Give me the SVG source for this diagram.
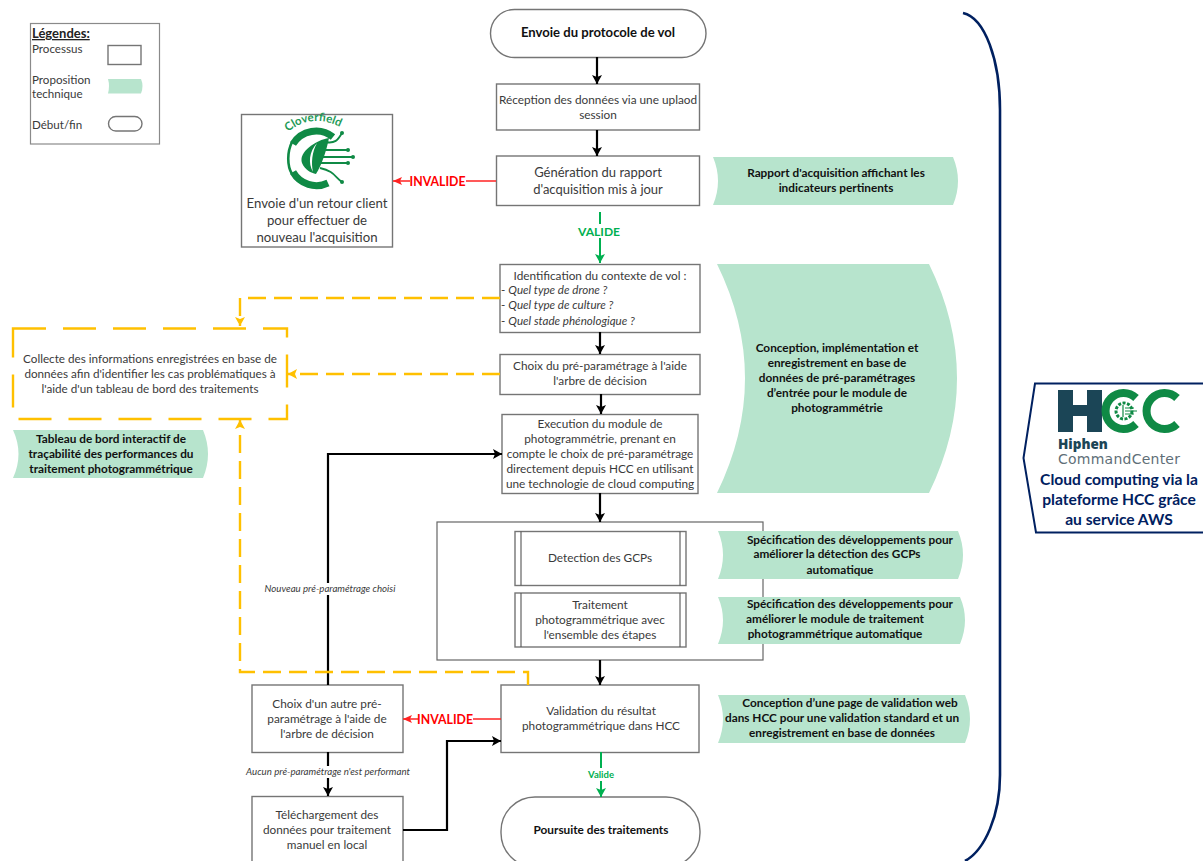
<svg xmlns="http://www.w3.org/2000/svg" width="1203" height="861" viewBox="0 0 1203 861">
<style>
text{font-family:Lato,"Liberation Sans",sans-serif;fill:#3a3a3a;font-size:11.800px;text-anchor:middle}
.b{fill:#fff;stroke:#757575;stroke-width:1.4}
.g{fill:#b7e4cd;stroke:none}
.t{font-weight:700;fill:#111;font-size:11.800px}
.l{text-anchor:start;font-size:11.600px}
.k{fill:none;stroke:#000;stroke-width:2.2}
.o{fill:none;stroke:#ffc000;stroke-width:2.4;stroke-dasharray:18 8}
.r{fill:none;stroke:#f22;stroke-width:1.6}
.v{fill:none;stroke:#00b050;stroke-width:2}
.n{fill:none;stroke:#002060;stroke-width:2.6}
.i{font-style:italic;font-size:9.700px}
.inv{font-weight:700;font-size:12.300px;fill:#f00}
.h{font-weight:700;font-size:15.600px;fill:#002060}
</style>
<defs>
<marker id="ak" markerUnits="userSpaceOnUse" markerWidth="10" markerHeight="10" refX="9" refY="5" orient="auto"><path d="M0 0L9 5L0 10L2 5Z" fill="#000"/></marker>
<marker id="ao" markerUnits="userSpaceOnUse" markerWidth="10" markerHeight="10" refX="9" refY="5" orient="auto"><path d="M0 0L9 5L0 10L2 5Z" fill="#ffc000"/></marker>
<marker id="ar" markerUnits="userSpaceOnUse" markerWidth="10" markerHeight="10" refX="9" refY="5" orient="auto"><path d="M0 1L9 5L0 9L2 5Z" fill="#f22"/></marker>
<marker id="av" markerUnits="userSpaceOnUse" markerWidth="10" markerHeight="10" refX="9" refY="5" orient="auto"><path d="M0 0L9 5L0 10L2 5Z" fill="#00b050"/></marker>
</defs>

<g id="bracket"><path class="n" d="M963 13C985 18 1000 60 1000 110V775C1000 815 985 850 965 861"/></g>

<g id="legend">
<rect x="30.500" y="23.500" width="129" height="120.500" fill="#fff" stroke="#8a8a8a" stroke-width="1.200"/>
<text class="l" x="32" y="38" style="font-weight:700;font-size:13px;fill:#222" text-decoration="underline">Légendes:</text>
<text class="l" x="32" y="53">Processus</text>
<text class="l" x="32" y="84">Proposition</text>
<text class="l" x="32" y="98">technique</text>
<text class="l" x="32" y="129">Début/fin</text>
<rect class="b" x="108" y="45.500" width="33" height="19"/>
<path class="g" d="M108 79H141Q144 86 141 93.500H108Q110 86 108 79Z"/>
<rect class="b" x="108.500" y="116.500" width="33.500" height="14.500" rx="7.250"/>
</g>

<g id="n-retour">
<rect class="b" x="241.500" y="114.500" width="151" height="132.500"/>
<path id="cloverArc" d="M288 132Q312 112 342 128" fill="none"/>
<text style="font-size:11.500px;font-weight:700;fill:#1f9a57;text-anchor:start"><textPath href="#cloverArc">Cloverfield</textPath></text>
<g fill="none" stroke="#0f8a45">
<path stroke-width="7" d="M293 144A27 27 0 0 1 333 137"/>
<path stroke-width="7" d="M293 172A27 27 0 0 0 328 183"/>
<path stroke-width="2.600" d="M292 142C287 152 287 166 292 174"/>
<path stroke-width="1.800" d="M318 150H348M320 157H353M318 163H348M325 142C335 144 338 140 342 133M320 168C334 171 335 177 342 182"/>
</g>
<path fill="#0f8a45" d="M329 138C316 140 298 152 302 163C305 170 311 173 316 174C322 164 326 152 329 138Z"/>
<path fill="#fff" d="M317 143C309 152 308 163 313 172C311 163 312 152 317 143Z"/>
<g fill="#0f8a45"><circle cx="342" cy="133" r="2"/><circle cx="348" cy="150" r="2"/><circle cx="353" cy="157" r="2"/><circle cx="348" cy="163" r="2"/><circle cx="342" cy="182" r="2"/></g>
<text x="317" y="208" style="font-size:13.200px">Envoie d'un retour client</text>
<text x="317" y="225" style="font-size:13.200px">pour effectuer de</text>
<text x="317" y="242" style="font-size:13.200px">nouveau l'acquisition</text>
</g>

<g id="n-collecte">
<text x="150" y="362.500" style="font-size:11.700px">Collecte des informations enregistrées en base de</text>
<text x="150" y="378" style="font-size:11.700px">données afin d'identifier les cas problématiques à</text>
<text x="150" y="393" style="font-size:11.700px">l'aide d'un tableau de bord des traitements</text>
<rect x="13" y="328.500" width="274" height="90.500" fill="none" stroke="#ffc000" stroke-width="2.400" stroke-dasharray="33 17"/>
</g>

<g id="p-tableau">
<path class="g" d="M13 430H203Q213 454 203 478H13Q24 454 13 430Z"/>
<text class="t" x="111" y="443">Tableau de bord interactif de</text>
<text class="t" x="111" y="458">traçabilité des performances du</text>
<text class="t" x="111" y="473">traitement photogrammétrique</text>
</g>

<g id="n-start"><rect class="b" x="490.500" y="9.500" width="215.500" height="48" rx="24"/><text class="t" x="598" y="37" style="font-size:13.100px">Envoie du protocole de vol</text></g>
<g id="n-reception"><rect class="b" x="496.500" y="84" width="203" height="46"/><text x="598" y="104">Réception des données via une uplaod</text><text x="598" y="119">session</text></g>
<g id="n-generation"><rect class="b" x="496.500" y="156" width="203" height="49.500"/><text x="598" y="177" style="font-size:13px">Génération du rapport</text><text x="598" y="194" style="font-size:13px">d'acquisition mis à jour</text></g>
<g id="p-rapport"><path class="g" d="M713 157H953Q963 181 953 205H713Q723 181 713 157Z"/><text class="t" x="836" y="177">Rapport d'acquisition affichant les</text><text class="t" x="836" y="192">indicateurs pertinents</text></g>
<g id="n-identification"><rect class="b" x="500" y="264.500" width="200" height="68"/><text x="600" y="280">Identification du contexte de vol  :</text><text class="l" x="501" y="294">- <tspan font-style="italic">Quel type de drone ?</tspan></text><text class="l" x="501" y="309">- <tspan font-style="italic">Quel type de culture ?</tspan></text><text class="l" x="501" y="325">- <tspan font-style="italic">Quel stade phénologique ?</tspan></text></g>
<g id="p-conception"><path class="g" d="M717 264H929Q985 378 929 493H717Q773 378 717 264Z"/><text class="t" x="837" y="352">Conception, implémentation et</text><text class="t" x="837" y="367">enregistrement en base de</text><text class="t" x="837" y="382">données de pré-paramétrages</text><text class="t" x="837" y="397">d’entrée pour le module de</text><text class="t" x="837" y="412">photogrammétrie</text></g>
<g id="n-choix"><rect class="b" x="500" y="354.500" width="200" height="40"/><text x="600" y="370">Choix du pré-paramétrage à l'aide</text><text x="600" y="385">l'arbre de décision</text></g>
<g id="n-execution"><rect class="b" x="502" y="414.500" width="196" height="79"/><text x="600" y="428">Execution du module de</text><text x="600" y="443">photogrammétrie, prenant en</text><text x="600" y="458">compte le choix de pré-paramétrage</text><text x="600" y="473">directement depuis HCC en utilisant</text><text x="600" y="488">une technologie de cloud computing</text></g>

<g id="n-container">
<rect x="437" y="522" width="326" height="138" fill="#fff" stroke="#666" stroke-width="1.200"/>
<g id="n-detection"><rect class="b" x="515" y="531.500" width="171" height="54"/><path d="M521 531.500V585.500M680 531.500V585.500" stroke="#555" stroke-width="1.100"/><text x="600" y="562">Detection des GCPs</text></g>
<g id="n-traitement"><rect class="b" x="515" y="593" width="171" height="54"/><path d="M521 593V647M680 593V647" stroke="#555" stroke-width="1.100"/><text x="600" y="609">Traitement</text><text x="600" y="624">photogrammétrique avec</text><text x="600" y="639">l'ensemble des étapes</text></g>
</g>
<g id="p-spec1"><path class="g" d="M718 531H958Q968 555 958 579H718Q728 555 718 531Z"/><text class="t" x="850" y="544">Spécification des développements pour</text><text class="t" x="837" y="558">améliorer la détection des GCPs</text><text class="t" x="840" y="574">automatique</text></g>
<g id="p-spec2"><path class="g" d="M718 597H960Q970 620 960 644H718Q728 620 718 597Z"/><text class="t" x="850" y="608">Spécification des développements pour</text><text class="t" x="835" y="623">améliorer le module de traitement</text><text class="t" x="835" y="638">photogrammétrique automatique</text></g>
<g id="n-validation"><rect class="b" x="501" y="685" width="198" height="67.500"/><text x="601" y="715">Validation du résultat</text><text x="601" y="730">photogrammétrique dans HCC</text></g>
<g id="p-validation"><path class="g" d="M718 695H965Q975 719 965 743H718Q728 719 718 695Z"/><text class="t" x="850" y="707">Conception d’une page de validation web</text><text class="t" x="842" y="722">dans HCC pour une validation standard et un</text><text class="t" x="842" y="737">enregistrement en base de données</text></g>
<g id="n-autre"><rect class="b" x="252" y="685" width="151" height="67.500"/><text x="327" y="708">Choix d'un autre pré-</text><text x="327" y="723">paramétrage à l'aide de</text><text x="327" y="738">l'arbre de décision</text></g>
<g id="n-telechargement"><rect class="b" x="252" y="796.500" width="151" height="72"/><text x="327" y="819">Téléchargement des</text><text x="327" y="834">données pour traitement</text><text x="327" y="849">manuel en local</text></g>
<g id="n-end"><rect class="b" x="501" y="797" width="199" height="70" rx="34"/><text class="t" x="601" y="834">Poursuite des traitements</text></g>

<g id="n-hcc">
<path d="M1203 383.500H1035L1023.500 458L1036 532.500H1203" fill="#fff" stroke="#002060" stroke-width="2"/>
<path fill="#1b4556" d="M1058 390H1073V405H1087V390H1102V432H1087V416H1073V432H1058Z"/>
<g fill="none" stroke="#0f8a45" stroke-width="8">
<path d="M1136 398A18 18 0 1 0 1136 424"/>
<path d="M1177 398A18 18 0 1 0 1177 424"/>
</g>
<circle cx="1124" cy="411" r="8" fill="none" stroke="#0f8a45" stroke-width="3" stroke-dasharray="3 1.500"/>
<path d="M1123 405V417M1125 408H1134M1125 411H1137M1125 414H1134" stroke="#0f8a45" stroke-width="1.200" fill="none"/>
<text x="1058" y="449" style="text-anchor:start;font-family:'Open Sans',sans-serif;font-weight:800;font-size:13.500px;fill:#1b4556">Hiphen</text>
<text x="1058" y="464" textLength="122" style="text-anchor:start;font-family:'DejaVu Sans',sans-serif;font-size:14px;fill:#5f6f78">CommandCenter</text>
<text class="h" x="1119" y="485">Cloud computing via la</text>
<text class="h" x="1119" y="505">plateforme HCC grâce</text>
<text class="h" x="1119" y="525">au service AWS</text>
</g>

<g id="connectors">
<path class="k" marker-end="url(#ak)" d="M597 57V84"/>
<path class="k" marker-end="url(#ak)" d="M597 130V156"/>
<path class="k" marker-end="url(#ak)" d="M600 332V354"/>
<path class="k" marker-end="url(#ak)" d="M601 394V414"/>
<path class="k" marker-end="url(#ak)" d="M600 493V522"/>
<path class="k" marker-end="url(#ak)" d="M600 660V685"/>
<path class="k" marker-end="url(#ak)" d="M328 685V454H502"/>
<path class="k" marker-end="url(#ak)" d="M328 752V796"/>
<path class="k" marker-end="url(#ak)" d="M403 830H447V741H501"/>
<path class="r" marker-end="url(#ar)" d="M496 181H393"/>
<path class="r" marker-end="url(#ar)" d="M501 719H403"/>
<path class="v" marker-end="url(#av)" d="M600 212V263"/>
<path class="v" marker-end="url(#av)" d="M601 752V797"/>
<path class="o" marker-end="url(#ao)" d="M500 298H240V326"/>
<path class="o" marker-end="url(#ao)" d="M500 374H288"/>
<path class="o" marker-end="url(#ao)" d="M528 685V672H240V420"/>
<g id="connector-labels">
<rect x="410" y="174" width="56" height="14" fill="#fff"/><text class="inv" x="437.500" y="185.500">INVALIDE</text>
<rect x="418" y="712" width="55" height="14" fill="#fff"/><text class="inv" x="445" y="724">INVALIDE</text>
<rect x="575" y="224" width="48" height="14" fill="#fff"/><text x="599" y="236" style="font-weight:700;font-size:12.100px;fill:#00b050">VALIDE</text>
<rect x="584" y="768" width="34" height="13" fill="#fff"/><text x="601" y="778" style="font-weight:700;font-size:9.500px;fill:#00b050">Valide</text>
<rect x="262" y="583" width="134" height="12" fill="#fff"/><text class="i" x="330" y="592">Nouveau pré-paramétrage choisi</text>
<rect x="245" y="766" width="167" height="12" fill="#fff"/><text class="i" x="328" y="775">Aucun pré-paramétrage n'est performant</text>
</g>
</g>
</svg>
